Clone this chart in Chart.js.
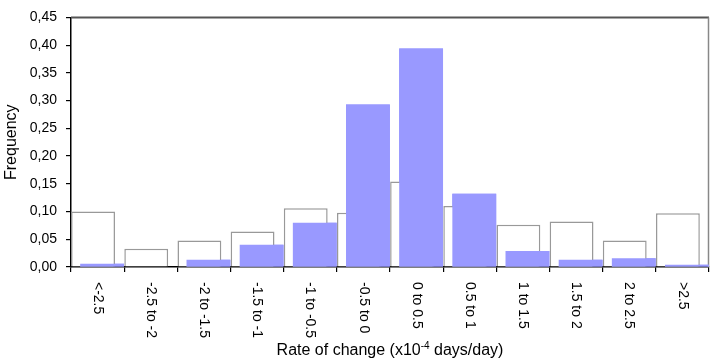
<!DOCTYPE html>
<html lang="en">
<head>
  <meta charset="UTF-8">
  <meta name="viewport" content="width=device-width, initial-scale=1.0">
  <title>Rate of change histogram</title>
  <script src="https://cdn.jsdelivr.net/npm/chart.js@4.4.0/dist/chart.umd.min.js"></script>
  <style>
    body { margin: 0; background: #fff; }
    .chart-box { position: relative; width: 710px; height: 363px; }
  </style>
</head>
<body>
  <div class="chart-box">
    <canvas id="histChart"></canvas>
  </div>

  <script>
    // --- Datos ---
    const categorias = ['<-2.5', '-2.5 to -2', '-2 to -1.5', '-1.5 to -1', '-1 to -0.5', '-0.5 to 0',
                        '0 to 0.5', '0.5 to 1', '1 to 1.5', '1.5 to 2', '2 to 2.5', '>2.5'];
    const frecuenciaContorno = [0.100, 0.033, 0.048, 0.064, 0.106, 0.098, 0.154, 0.110, 0.076, 0.082, 0.048, 0.097];
    const frecuenciaRelleno = [0.006, 0.000, 0.013, 0.040, 0.080, 0.293, 0.394, 0.132, 0.029, 0.013, 0.016, 0.004];
    const tituloX = ['Rate of change (x10', '-4', ' days/day)'];
    const tituloY = 'Frequency';

    const fuente = '"Liberation Sans", Arial, sans-serif';

    // Las barras azules van encima de las blancas (se vuelven a dibujar)
    const barrasEncima = {
      id: 'barrasEncima',
      afterDatasetsDraw(chart) {
        chart.getDatasetMeta(1).controller.draw();
      }
    };

    // Marco superior y derecho del area del grafico
    const marco = {
      id: 'marco',
      beforeDatasetsDraw(chart) {
        const { ctx, chartArea: a } = chart;
        ctx.save();
        ctx.strokeStyle = '#555';
        ctx.lineWidth = 2;
        ctx.beginPath();
        ctx.moveTo(a.left, a.top);
        ctx.lineTo(a.right, a.top);
        ctx.stroke();
        ctx.strokeStyle = '#888';
        ctx.lineWidth = 1.5;
        ctx.beginPath();
        ctx.moveTo(a.right - 0.5, a.top);
        ctx.lineTo(a.right - 0.5, a.bottom);
        ctx.stroke();
        ctx.restore();
      }
    };

    // Etiquetas del eje X giradas (leen de arriba hacia abajo) y titulo con superindice
    const etiquetasX = {
      id: 'etiquetasX',
      afterDraw(chart) {
        const { ctx, chartArea: a } = chart;
        const xScale = chart.scales.x;
        ctx.save();
        ctx.fillStyle = '#000';
        ctx.font = '14px ' + fuente;
        ctx.textAlign = 'left';
        ctx.textBaseline = 'middle';
        categorias.forEach((texto, i) => {
          ctx.save();
          ctx.translate(xScale.getPixelForValue(i), a.bottom + 15);
          ctx.rotate(Math.PI / 2);
          ctx.fillText(texto, 0, 0);
          ctx.restore();
        });

        // titulo: texto normal + superindice + texto normal
        ctx.textBaseline = 'alphabetic';
        ctx.font = '16px ' + fuente;
        const w1 = ctx.measureText(tituloX[0]).width;
        const w3 = ctx.measureText(tituloX[2]).width;
        ctx.font = '10px ' + fuente;
        const w2 = ctx.measureText(tituloX[1]).width;
        let x = (a.left + a.right) / 2 - (w1 + w2 + w3) / 2;
        const base = 355;
        ctx.font = '16px ' + fuente;
        ctx.fillText(tituloX[0], x, base);
        x += w1;
        ctx.font = '10px ' + fuente;
        ctx.fillText(tituloX[1], x, base - 6);
        x += w2;
        ctx.font = '16px ' + fuente;
        ctx.fillText(tituloX[2], x, base);
        ctx.restore();
      }
    };

    function initChart() {
      const ctx = document.getElementById('histChart').getContext('2d');
      new Chart(ctx, {
        type: 'bar',
        data: {
          labels: categorias,
          datasets: [{
            label: 'contorno',
            data: frecuenciaContorno,
            backgroundColor: '#ffffff',
            borderColor: '#999999',
            borderWidth: 1.5,
            categoryPercentage: 0.34,
            barPercentage: 4.85
          }, {
            label: 'relleno',
            data: frecuenciaRelleno,
            backgroundColor: '#9999ff',
            borderWidth: 0,
            categoryPercentage: 0.34,
            barPercentage: 4.85
          }]
        },
        options: {
          responsive: true,
          maintainAspectRatio: false,
          animation: false,
          devicePixelRatio: 1,
          layout: { padding: { top: 14, right: 1, left: 0, bottom: 0 } },
          plugins: {
            legend: { display: false },
            tooltip: { enabled: false }
          },
          scales: {
            x: {
              afterFit(scale) { scale.height = 96; },
              ticks: { display: false },
              grid: {
                offset: true,
                drawOnChartArea: false,
                drawTicks: true,
                tickLength: 5,
                color: '#000',
                lineWidth: 1.2
              },
              border: { color: '#000', width: 1.5 }
            },
            y: {
              min: 0,
              max: 0.45,
              afterFit(scale) { scale.width = 71; },
              ticks: {
                stepSize: 0.05,
                padding: 9,
                color: '#000',
                font: { family: fuente, size: 14 },
                callback: (v) => v.toFixed(2).replace('.', ',')
              },
              grid: {
                drawOnChartArea: false,
                drawTicks: true,
                tickLength: 5,
                color: '#000',
                lineWidth: 1.2
              },
              border: { color: '#000', width: 1.5 },
              title: {
                display: true,
                text: tituloY,
                color: '#000',
                padding: { top: 2, bottom: 0 },
                font: { family: fuente, size: 16 }
              }
            }
          }
        },
        plugins: [marco, barrasEncima, etiquetasX]
      });
    }

    initChart();
  </script>
</body>
</html>
